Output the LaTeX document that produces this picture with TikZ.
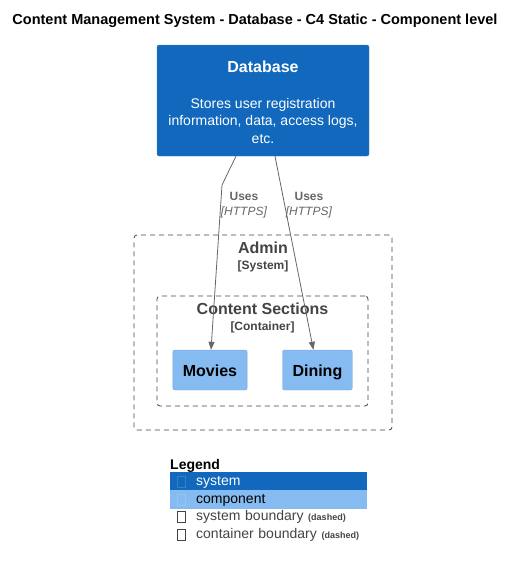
\documentclass[tikz,border=0pt]{standalone}
\usepackage{fontspec}
\setmainfont{Liberation Sans}
\usetikzlibrary{arrows.meta,positioning}
\definecolor{sysblue}{HTML}{1168BD}
\definecolor{sysedge}{HTML}{3C7FC0}
\definecolor{compblue}{HTML}{85BBF0}
\definecolor{compedge}{HTML}{78A8D8}
\definecolor{bndgrey}{HTML}{444444}
\definecolor{relgrey}{HTML}{666666}

\begin{document}
\begin{tikzpicture}[x=1pt, y=-1pt, node distance=4pt and 35pt,
  system/.style={draw=sysedge, fill=sysblue, text=white, rounded corners=2pt, align=center, minimum width=212pt, minimum height=111pt, font=\fontsize{14}{17.5}\selectfont},
  component/.style={draw=compedge, fill=compblue, rounded corners=2pt, inner xsep=10pt, minimum height=40pt, text height=17pt, text depth=3.5pt, font=\fontsize{16}{19}\selectfont\bfseries},
  boundary/.style={draw=bndgrey, line width=0.8pt, dash pattern=on 5pt off 4pt, rounded corners=3pt, inner sep=0pt},
  bndtitle/.style={text=bndgrey, align=center, inner sep=0pt, font=\fontsize{16}{18}\selectfont\bfseries},
  rellabel/.style={text=relgrey, align=center, inner sep=0pt, font=\fontsize{12}{15}\selectfont},
  uses/.style={-{Triangle[length=8pt,width=6pt]}, draw=relgrey, line width=0.8pt},
  legrow/.style={anchor=north west, text width=197pt, inner xsep=0pt, minimum height=17.5pt, text height=10pt, text depth=3pt, align=left, font=\fontsize{14}{16}\selectfont, execute at begin node={\hspace*{26pt}}},
  keybox/.style={draw, minimum width=8pt, minimum height=11pt, inner sep=0pt, line width=0.6pt}]
\useasboundingbox (0,0) rectangle (517,568);
\node[font=\fontsize{14.5}{17}\selectfont\bfseries] (title) at (255,21) {Content Management System - Database - C4 Static - Component level};
% database
\node[system] (db) at (263,100.5) {\\[-2pt]{\fontsize{16}{19}\selectfont\bfseries Database}\\[18pt]
  Stores user registration\\information, data, access logs,\\etc.};
% boundaries
\node[boundary, minimum width=258pt, minimum height=195pt] (admin) at (263,332.5) {};
\node[bndtitle, below=7pt of admin.north] (admintitle) {Admin\\[-2pt]{\fontsize{12}{14}\selectfont [System]}};
\node[boundary, minimum width=211pt, minimum height=110pt] (sections) at (262.5,351) {};
\node[bndtitle, below=7pt of sections.north] (sectionstitle) {Content Sections\\[-2pt]{\fontsize{12}{14}\selectfont [Container]}};
% components
\node[component] (movies) at (210,370) {Movies};
\node[component, right=of movies] (dining) {Dining};
% relations
\coordinate (bend) at (222,185);
\draw[uses] ([xshift=-27pt]db.south) -- (bend) -- ([xshift=1pt]movies.north);
\draw[uses] ([xshift=12pt]db.south) -- ([xshift=-4pt]dining.north);
\node[rellabel] (usesmovies) at (244,205.5) {\textbf{Uses}\\\textit{[HTTPS]}};
\node[rellabel] (usesdining) at (309,205.5) {\textbf{Uses}\\\textit{[HTTPS]}};
% legend
\node[anchor=west, inner sep=0pt, font=\fontsize{14}{16}\selectfont\bfseries] (legend) at (170,465.5) {Legend};
\node[legrow, fill=sysblue, text=white] (legsys) at (170,472) {system};
\node[legrow, fill=compblue] (legcomp) at (170,489.5) {component};
\node[legrow, text=bndgrey] (legsysbnd) at (170,507) {system boundary {\fontsize{9}{10}\selectfont\bfseries (dashed)}};
\node[legrow, text=bndgrey] (legconbnd) at (170,524.5) {container boundary {\fontsize{9}{10}\selectfont\bfseries (dashed)}};
\node[keybox, draw=sysblue!85!white] (keysys) at ([xshift=11pt]legsys.west) {};
\node[keybox, draw=compblue!85!white] (keycomp) at ([xshift=11pt]legcomp.west) {};
\node[keybox, draw=bndgrey] (keysysbnd) at ([xshift=11pt]legsysbnd.west) {};
\node[keybox, draw=bndgrey] (keyconbnd) at ([xshift=11pt]legconbnd.west) {};
\end{tikzpicture}
\end{document}
